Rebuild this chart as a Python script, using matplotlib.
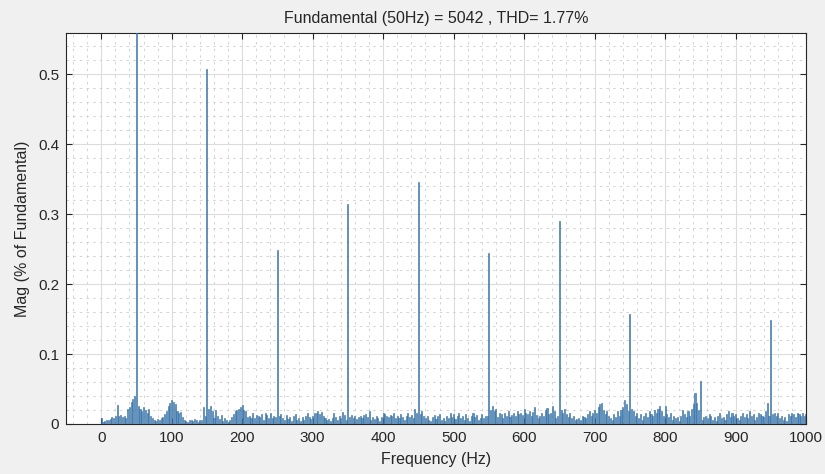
import numpy as np
import matplotlib
matplotlib.use('Agg')
import matplotlib.pyplot as plt
from matplotlib.ticker import MultipleLocator

plt.rcParams['font.family'] = ['Liberation Sans', 'DejaVu Sans']

# spectrum, 2.5 Hz bins from 0 to 1000 Hz, in % of fundamental
df = 2.5
mag = [
    # 0 - 47.5
    0.009, 0.003, 0.004, 0.005, 0.006, 0.007, 0.010, 0.008, 0.012, 0.027,
    0.011, 0.013, 0.010, 0.012, 0.009, 0.022, 0.024, 0.031, 0.036, 0.040,
    # 50 - 97.5
    100.0, 0.025, 0.022, 0.018, 0.024, 0.020, 0.015, 0.022, 0.012, 0.008,
    0.005, 0.004, 0.007, 0.006, 0.008, 0.010, 0.014, 0.018, 0.026, 0.030,
    # 100 - 147.5
    0.035, 0.032, 0.028, 0.018, 0.016, 0.017, 0.010, 0.006, 0.004, 0.003,
    0.005, 0.006, 0.004, 0.007, 0.005, 0.003, 0.006, 0.005, 0.024, 0.012,
    # 150 - 197.5
    0.508, 0.022, 0.025, 0.018, 0.008, 0.020, 0.012, 0.007, 0.013, 0.004,
    0.009, 0.006, 0.003, 0.006, 0.010, 0.014, 0.018, 0.020, 0.022, 0.024,
    # 200 - 247.5
    0.027, 0.020, 0.018, 0.010, 0.012, 0.009, 0.015, 0.008, 0.013, 0.012,
    0.010, 0.014, 0.006, 0.015, 0.013, 0.009, 0.015, 0.008, 0.012, 0.010,
    # 250 - 297.5
    0.248, 0.012, 0.014, 0.008, 0.005, 0.013, 0.007, 0.010, 0.004, 0.011,
    0.014, 0.006, 0.008, 0.004, 0.010, 0.006, 0.012, 0.016, 0.010, 0.007,
    # 300 - 347.5
    0.012, 0.016, 0.015, 0.018, 0.014, 0.017, 0.012, 0.009, 0.005, 0.007,
    0.004, 0.008, 0.015, 0.010, 0.006, 0.012, 0.008, 0.017, 0.013, 0.006,
    # 350 - 397.5
    0.314, 0.010, 0.013, 0.008, 0.012, 0.007, 0.010, 0.011, 0.009, 0.013,
    0.014, 0.010, 0.018, 0.005, 0.010, 0.007, 0.012, 0.009, 0.004, 0.010,
    # 400 - 447.5
    0.016, 0.014, 0.012, 0.010, 0.013, 0.011, 0.015, 0.009, 0.012, 0.008,
    0.014, 0.010, 0.005, 0.012, 0.016, 0.010, 0.013, 0.009, 0.022, 0.015,
    # 450 - 497.5
    0.346, 0.014, 0.018, 0.011, 0.008, 0.012, 0.006, 0.004, 0.010, 0.013,
    0.007, 0.011, 0.014, 0.006, 0.009, 0.004, 0.012, 0.008, 0.015, 0.010,
    # 500 - 547.5
    0.014, 0.007, 0.012, 0.016, 0.008, 0.011, 0.006, 0.014, 0.009, 0.004,
    0.012, 0.016, 0.010, 0.013, 0.006, 0.009, 0.014, 0.008, 0.012, 0.011,
    # 550 - 597.5
    0.244, 0.020, 0.025, 0.018, 0.022, 0.010, 0.016, 0.014, 0.008, 0.015,
    0.012, 0.019, 0.010, 0.013, 0.016, 0.012, 0.018, 0.014, 0.016, 0.013,
    # 600 - 647.5
    0.022, 0.016, 0.014, 0.019, 0.012, 0.017, 0.024, 0.013, 0.008, 0.012,
    0.015, 0.011, 0.020, 0.023, 0.014, 0.016, 0.025, 0.018, 0.008, 0.012,
    # 650 - 697.5
    0.290, 0.020, 0.015, 0.022, 0.014, 0.010, 0.016, 0.008, 0.012, 0.006,
    0.007, 0.009, 0.006, 0.012, 0.010, 0.008, 0.014, 0.018, 0.012, 0.016,
    # 700 - 747.5
    0.020, 0.016, 0.024, 0.029, 0.030, 0.020, 0.014, 0.018, 0.012, 0.009,
    0.006, 0.014, 0.010, 0.018, 0.012, 0.020, 0.024, 0.035, 0.028, 0.018,
    # 750 - 797.5
    0.157, 0.022, 0.018, 0.012, 0.016, 0.008, 0.014, 0.006, 0.012, 0.016,
    0.010, 0.018, 0.014, 0.012, 0.020, 0.016, 0.022, 0.026, 0.018, 0.012,
    # 800 - 847.5
    0.026, 0.014, 0.010, 0.016, 0.006, 0.012, 0.008, 0.010, 0.004, 0.012,
    0.020, 0.014, 0.010, 0.018, 0.012, 0.022, 0.028, 0.044, 0.030, 0.020,
    # 850 - 897.5
    0.061, 0.006, 0.010, 0.012, 0.008, 0.014, 0.012, 0.006, 0.010, 0.004,
    0.012, 0.016, 0.008, 0.010, 0.006, 0.014, 0.018, 0.010, 0.016, 0.012,
    # 900 - 947.5
    0.014, 0.008, 0.006, 0.012, 0.016, 0.010, 0.014, 0.008, 0.018, 0.012,
    0.014, 0.006, 0.010, 0.016, 0.014, 0.012, 0.010, 0.018, 0.030, 0.012,
    # 950 - 1000
    0.149, 0.014, 0.016, 0.012, 0.016, 0.008, 0.012, 0.006, 0.010, 0.004,
    0.014, 0.012, 0.016, 0.014, 0.010, 0.016, 0.014, 0.012, 0.016, 0.012,
    0.014,
]
freq = np.arange(len(mag)) * df

title = 'Fundamental (50Hz) = 5042 , THD= 1.77%'
dark = '#262626'

fig = plt.figure(figsize=(8.25, 4.74), dpi=100, facecolor='#f0f0f0')
ax = fig.add_axes([0.08, 0.1055, 0.897, 0.8245])
ax.set_facecolor('white')

ax.bar(freq, mag, width=0.6 * df, color='#5a93c6', edgecolor='#2f6a9e',
       linewidth=0.4, zorder=3)

ax.set_xlim(-50, 1000)
ax.set_ylim(0, 0.5585)
ax.xaxis.set_major_locator(MultipleLocator(100))
ax.xaxis.set_minor_locator(MultipleLocator(20))
ax.yaxis.set_minor_locator(MultipleLocator(0.02))
ax.set_yticks([0, 0.1, 0.2, 0.3, 0.4, 0.5])
ax.set_yticklabels(['0', '0.1', '0.2', '0.3', '0.4', '0.5'])

ax.grid(which='major', color='#dcdcdc', linewidth=0.8, linestyle='-', zorder=0)
ax.grid(which='minor', color='#cccccc', linewidth=0.6, linestyle=(0, (3, 5)), zorder=0)
ax.set_axisbelow(True)

ax.tick_params(which='major', direction='in', length=4, width=0.8, colors=dark,
               labelsize=11, top=True, right=True, pad=5)
ax.tick_params(which='minor', length=0)
for s in ax.spines.values():
    s.set_color(dark)
    s.set_linewidth(0.8)

ax.set_xlabel('Frequency (Hz)', fontsize=11.5, color=dark, labelpad=5)
ax.set_ylabel('Mag (% of Fundamental)', fontsize=11.5, color=dark, labelpad=6)
ax.set_title(title, fontsize=11.5, color=dark, pad=7)

fig.savefig('out.png', dpi=100, facecolor=fig.get_facecolor())
